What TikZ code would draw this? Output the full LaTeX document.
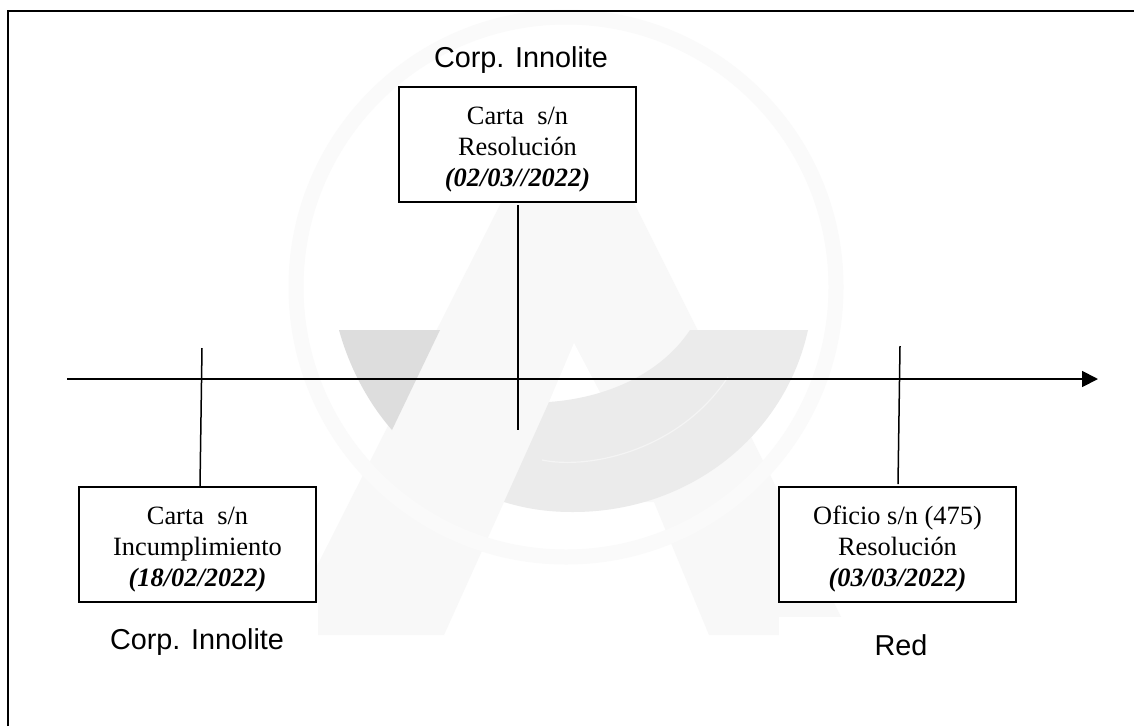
\documentclass[tikz,border=0pt]{standalone}
\usepackage{fontspec}
\setmainfont{Liberation Serif}
\setsansfont{Liberation Sans}
\usetikzlibrary{arrows.meta}
\newcommand{\firstline}{\rule{0pt}{28pt}}
\tikzset{
  every picture/.style={x=1pt,y=-1pt},
  docbox/.style={draw=black,line width=1.6pt,fill=white,minimum width=237pt,minimum height=115pt,inner sep=0pt,align=center,font=\fontsize{26.4}{31}\selectfont},
  tag/.style={font=\sffamily\fontsize{28.8}{32}\selectfont,inner sep=0pt,anchor=center},
  tick/.style={line width=1.5pt,draw=black},
  axis/.style={line width=1.8pt,draw=black,-{Triangle[length=16pt,width=16pt]}},
  frameline/.style={line width=2pt,draw=black}
}
\definecolor{wmA}{HTML}{F8F8F8}
\definecolor{wmR}{HTML}{FAFAFA}
\definecolor{wmW}{HTML}{DDDDDD}
\definecolor{wmB}{HTML}{EBEBEB}
\definecolor{wmC}{HTML}{F4F4F4}
\begin{document}
\begin{tikzpicture}
\useasboundingbox (0,0) rectangle (1134,726);
\fill[white] (0,0) rectangle (1134,726);
% watermark
\fill[wmA] (282,635) -- (505,195) -- (630,195) -- (850,635) -- (709,635) -- (654,502) -- (504,502) -- (444,635) -- cycle;
\draw[wmR,line width=15pt] (566,287) circle (270);
\fill[white] (574,343) -- (549,402) -- (560,440) -- (625,440) -- cycle;
\fill[white] (270,602) rectangle (318,645);
\fill[white] (779,617) rectangle (870,645);
\fill[wmW] (339,330) -- (440,330) -- (392,430) .. controls (370,405) and (350,370) .. cycle;
\fill[wmB] (690,330) .. controls (660,375) and (605,398) .. (549,402) -- (504,502) .. controls (530,510) and (552,512) .. (573,512) .. controls (690,512) and (785,435) .. (808,330) -- cycle;
\draw[wmC,line width=1.2pt] (542,460) .. controls (590,470) and (680,450) .. (728,377);
% frame
\draw[frameline] (8,726) -- (8,11) -- (1134,11);
% nodes
\node[docbox] (top) at (517.5,144.5) {\firstline Carta\ \ s/n\\Resolución\\\textbf{\textit{(02/03//2022)}}};
\node[docbox] (left) at (197.5,544.5) {\firstline Carta\ \ s/n\\Incumplimiento\\\textbf{\textit{(18/02/2022)}}};
\node[docbox] (right) at (897.5,544.5) {\firstline Oficio s/n (475)\\Resolución\\\textbf{\textit{(03/03/2022)}}};
\node[tag] (ltop) at (521,60) {Corp. Innolite};
\node[tag] (lleft) at (197,642) {Corp. Innolite};
\node[tag] (lright) at (901,645) {Red};
% free ends
\coordinate (axisA) at (67,379);
\coordinate (axisB) at (1098,379);
\coordinate (t1) at (202,348);
\coordinate (t2a) at (518,205);
\coordinate (t2) at (518,430);
\coordinate (t3) at (900,346);
\coordinate (t3b) at (898,484);
\draw[axis] (axisA) -- (axisB);
\draw[tick] (t1) -- (left.north -| 200,0);
\draw[tick] (t2a) -- (t2);
\draw[tick] (t3) -- (t3b);
\end{tikzpicture}
\end{document}
